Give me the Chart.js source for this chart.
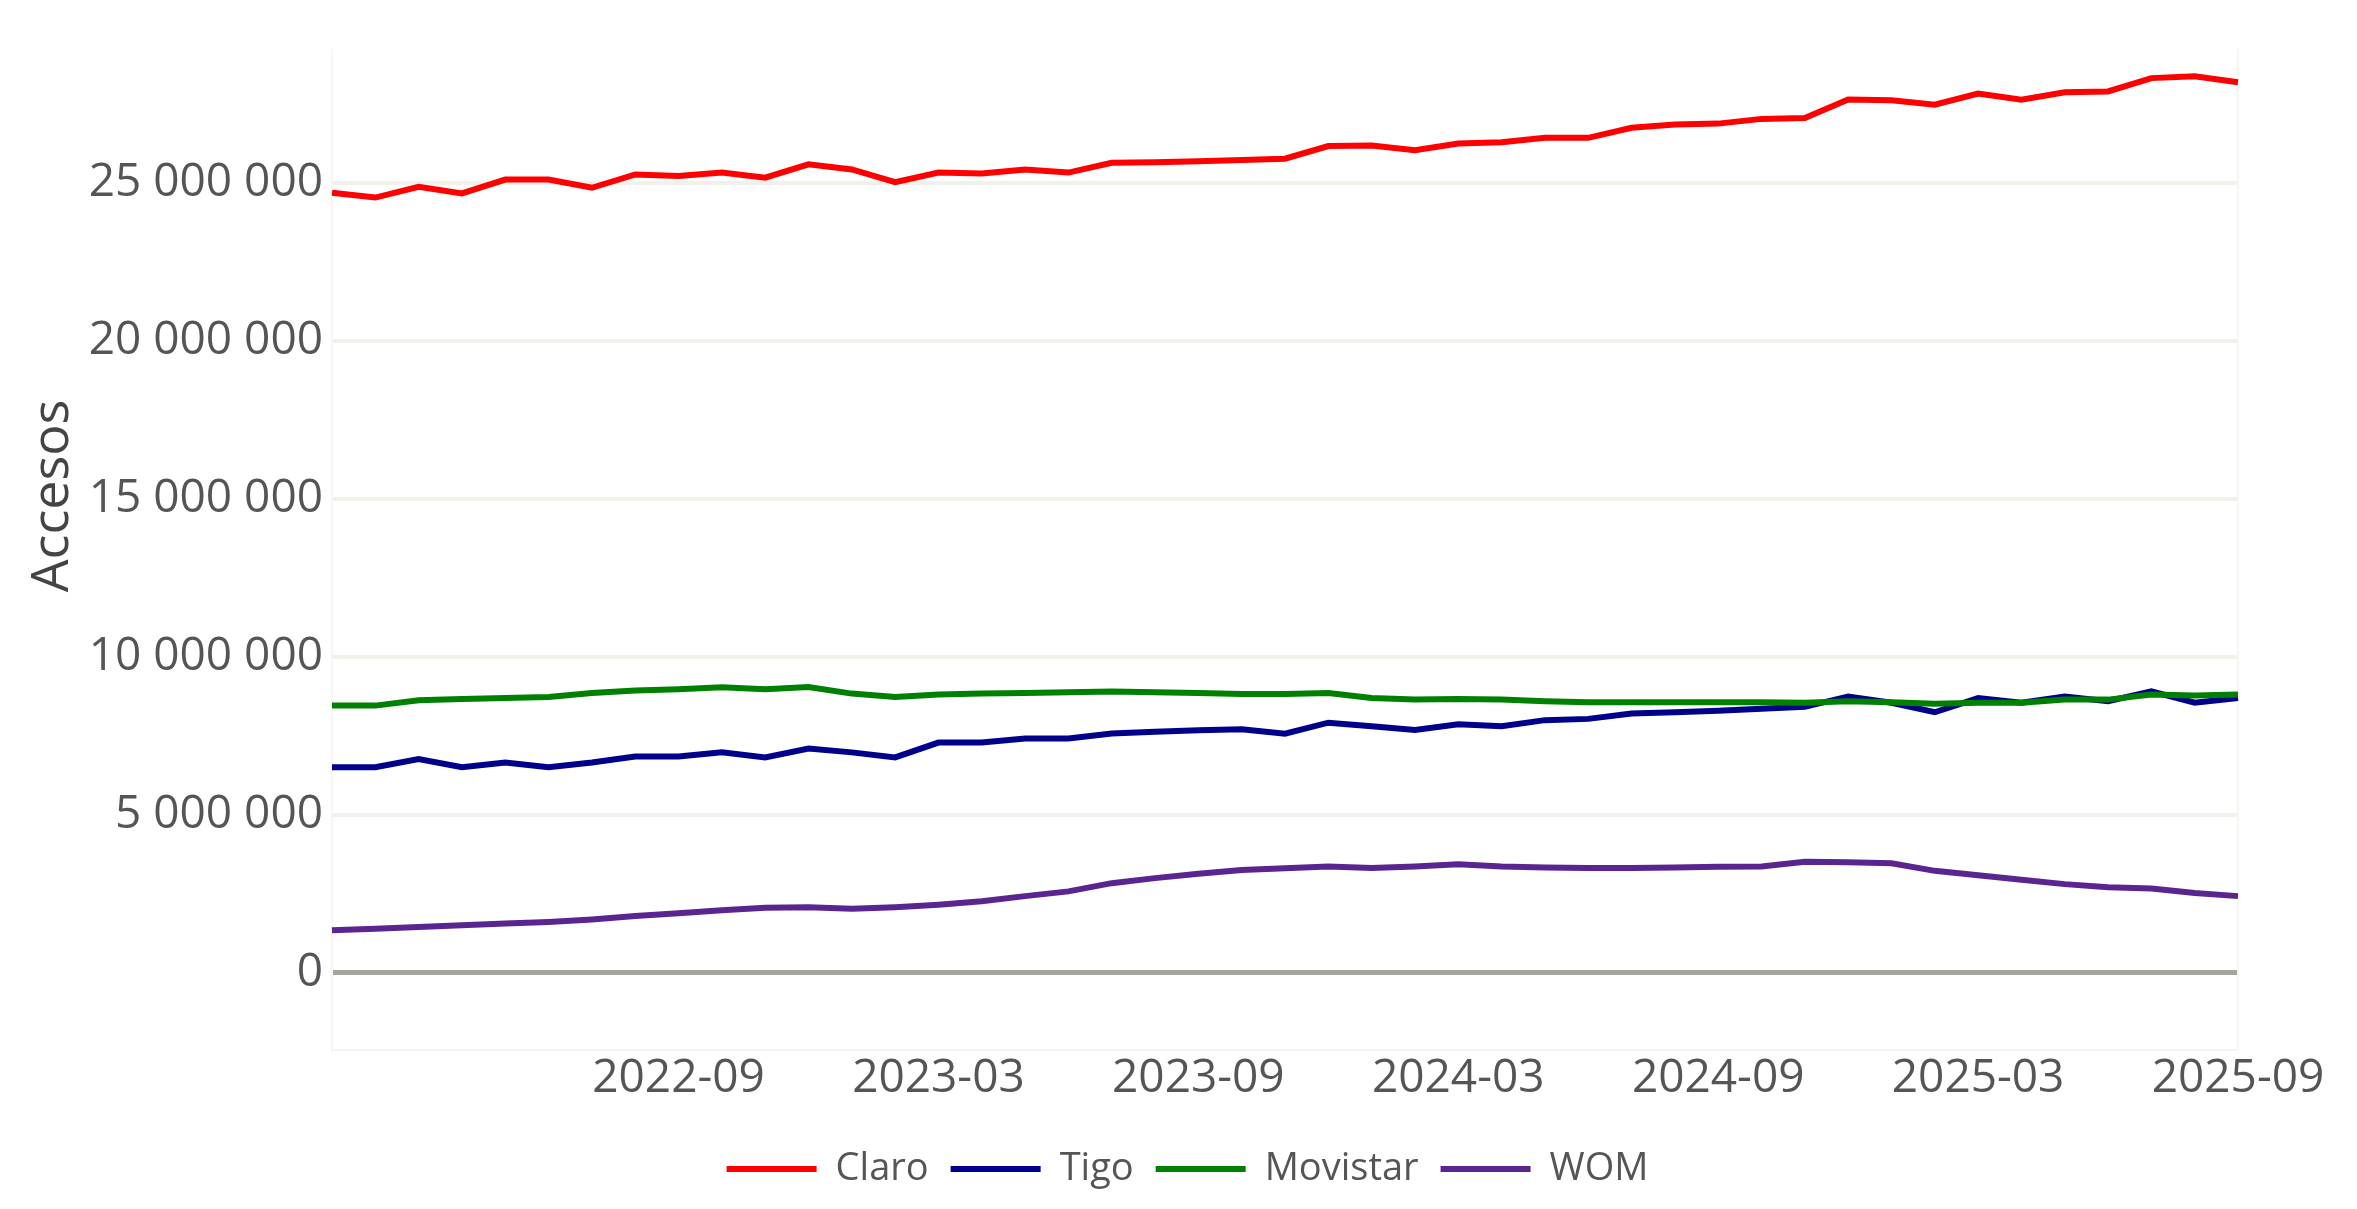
<!DOCTYPE html>
<html>
<head>
<meta charset="utf-8">
<script src="https://cdn.jsdelivr.net/npm/chart.js@4.4.1/dist/chart.umd.min.js"></script>
<style>
  html, body { margin: 0; padding: 0; background: #ffffff; }
  #wrap { width: 2357px; height: 1209px; position: relative; }
</style>
</head>
<body>
<div id="wrap"><canvas id="chart"></canvas></div>
<script>
// monthly periods, 2022-01 .. 2025-09
const months = [
  '2022-01', '2022-02', '2022-03', '2022-04', '2022-05', '2022-06', '2022-07', '2022-08', '2022-09', '2022-10', '2022-11', '2022-12',
  '2023-01', '2023-02', '2023-03', '2023-04', '2023-05', '2023-06', '2023-07', '2023-08', '2023-09', '2023-10', '2023-11', '2023-12',
  '2024-01', '2024-02', '2024-03', '2024-04', '2024-05', '2024-06', '2024-07', '2024-08', '2024-09', '2024-10', '2024-11', '2024-12',
  '2025-01', '2025-02', '2025-03', '2025-04', '2025-05', '2025-06', '2025-07', '2025-08', '2025-09'
];

// only these months get a label on the x axis
const tickMonths = ['2022-09', '2023-03', '2023-09', '2024-03', '2024-09', '2025-03', '2025-09'];

const yTicks = [0, 5000000, 10000000, 15000000, 20000000, 25000000];

const claro = [
  24680000, 24530000, 24870000, 24660000, 25100000, 25100000, 24840000, 25260000, 25210000, 25320000, 25160000, 25580000,
  25420000, 25020000, 25320000, 25290000, 25420000, 25320000, 25630000, 25650000, 25680000, 25720000, 25760000, 26160000,
  26180000, 26030000, 26240000, 26280000, 26420000, 26420000, 26740000, 26840000, 26870000, 27020000, 27050000, 27630000,
  27610000, 27470000, 27820000, 27630000, 27860000, 27890000, 28310000, 28370000, 28180000
];

const tigo = [
  6500000, 6500000, 6760000, 6500000, 6650000, 6500000, 6650000, 6840000, 6840000, 6970000, 6810000, 7090000,
  6970000, 6810000, 7280000, 7280000, 7410000, 7410000, 7570000, 7620000, 7670000, 7700000, 7560000, 7910000,
  7800000, 7680000, 7860000, 7800000, 7990000, 8030000, 8200000, 8240000, 8290000, 8350000, 8410000, 8740000,
  8540000, 8240000, 8690000, 8540000, 8740000, 8590000, 8900000, 8540000, 8690000
];

const movistar = [
  8450000, 8450000, 8620000, 8660000, 8690000, 8720000, 8850000, 8930000, 8970000, 9030000, 8970000, 9040000,
  8830000, 8720000, 8800000, 8830000, 8850000, 8870000, 8900000, 8870000, 8850000, 8820000, 8820000, 8850000,
  8690000, 8640000, 8660000, 8640000, 8590000, 8560000, 8560000, 8560000, 8560000, 8560000, 8540000, 8590000,
  8560000, 8510000, 8540000, 8540000, 8640000, 8640000, 8800000, 8770000, 8800000
];

const wom = [
  1340000, 1390000, 1440000, 1500000, 1550000, 1600000, 1680000, 1790000, 1880000, 1970000, 2050000, 2070000,
  2020000, 2070000, 2150000, 2260000, 2420000, 2570000, 2830000, 2990000, 3130000, 3250000, 3300000, 3360000,
  3310000, 3360000, 3430000, 3360000, 3330000, 3310000, 3310000, 3330000, 3350000, 3360000, 3510000, 3490000,
  3460000, 3220000, 3080000, 2940000, 2800000, 2700000, 2660000, 2520000, 2420000
];

const FONT = "'Open Sans', 'DejaVu Sans', sans-serif";

function fmt(v) {
  return String(v).replace(/\B(?=(\d{3})+(?!\d))/g, ' ');
}

function line(label, data, color, order) {
  return {
    label: label,
    data: data,
    borderColor: color,
    backgroundColor: color,
    borderWidth: 6,
    pointRadius: 0,
    pointHoverRadius: 0,
    tension: 0,
    fill: false,
    yAxisID: 'y',
    order: order // later series are painted on top, like the original
  };
}

new Chart(document.getElementById('chart'), {
  type: 'line',
  data: {
    labels: months,
    datasets: [
      line('Claro', claro, '#ff0000', 4),
      line('Tigo', tigo, '#00008b', 3),
      line('Movistar', movistar, '#008000', 2),
      line('WOM', wom, '#5a2590', 1)
    ]
  },
  options: {
    responsive: true,
    maintainAspectRatio: false,
    animation: false,
    devicePixelRatio: 1,
    layout: { padding: { top: 50, right: 0, bottom: 11, left: 18 } },
    plugins: {
      tooltip: { enabled: false },
      legend: {
        position: 'bottom',
        labels: {
          usePointStyle: true,
          pointStyle: 'line',
          pointStyleWidth: 90,
          boxHeight: 38,
          padding: 22,
          color: '#555555',
          font: { family: FONT, size: 38 },
          sort: (a, b) => a.datasetIndex - b.datasetIndex
        }
      }
    },
    scales: {
      x: {
        type: 'category',
        offset: false,
        grid: { display: false, drawTicks: false },
        border: { display: true, color: '#f5f4ee', width: 2 },
        ticks: {
          autoSkip: false,
          maxRotation: 0,
          minRotation: 0,
          padding: 1,
          color: '#555555',
          font: { family: FONT, size: 46 },
          callback: function (val, idx) {
            const m = months[idx];
            return tickMonths.includes(m) ? m : '';
          }
        },
        afterFit: function (scale) { scale.height = 78; }
      },
      y: {
        min: -2450000,
        max: 29200000,
        afterBuildTicks: function (scale) {
          scale.ticks = yTicks.map(v => ({ value: v }));
        },
        afterFit: function (scale) { scale.width = 314; },
        grid: {
          drawTicks: false,
          color: ctx => (ctx.tick && ctx.tick.value === 0) ? '#a5a59e' : '#f1f0ea',
          lineWidth: ctx => (ctx.tick && ctx.tick.value === 0) ? 5 : 4
        },
        border: { display: true, color: '#f7f6f0', width: 2 },
        ticks: {
          padding: 9,
          color: '#555555',
          font: { family: FONT, size: 46 },
          callback: v => fmt(v)
        },
        title: {
          display: true,
          text: '        Accesos',
          color: '#444444',
          font: { family: FONT, size: 52 },
          padding: { top: 4, bottom: 0 }
        }
      },
      // empty right-hand axis: keeps room for the last date label and draws the faint right edge
      yRight: {
        type: 'linear',
        position: 'right',
        grid: { display: false, drawTicks: false },
        border: { display: true, color: '#f7f6f0', width: 2 },
        ticks: { display: false },
        afterFit: function (scale) { scale.width = 119; }
      }
    }
  }
});
</script>
</body>
</html>
